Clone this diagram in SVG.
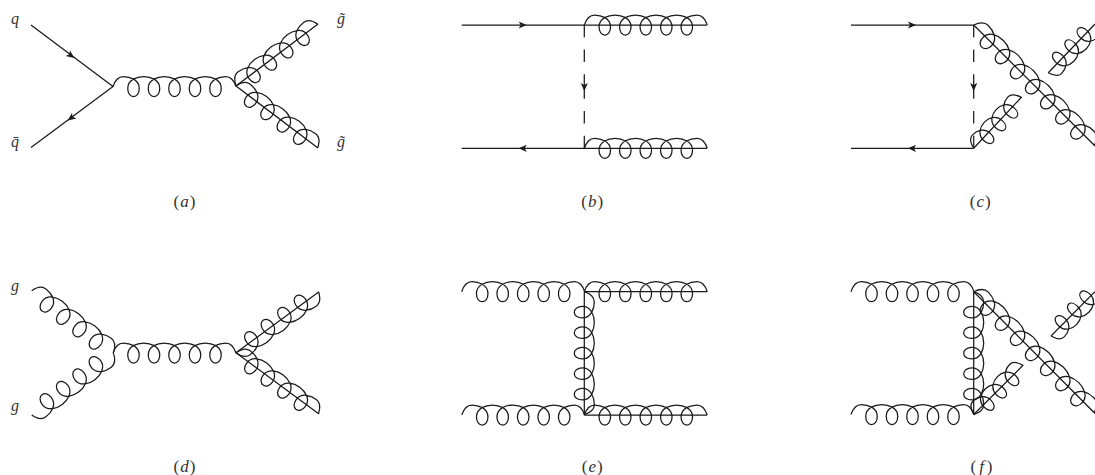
<svg xmlns="http://www.w3.org/2000/svg" width="1095" height="475" viewBox="0 0 1095 475">
<style>
.l{fill:none;stroke:#1a1a1a;stroke-width:1.25;stroke-linecap:butt;vector-effect:non-scaling-stroke}
.d{stroke-dasharray:12.3 12.3 12.3 12.3 24.6 12.3 12.3 12.3 12.3}
.a{fill:#1a1a1a;stroke:none}
text{font-family:"Liberation Serif","DejaVu Serif",serif;font-size:16px;fill:#333;text-anchor:middle}
.c{font-size:17px;letter-spacing:1px}
.i{font-style:italic}
</style>
<defs>
<path id="g3" class="l" d="M0,0C2,-6 5,-10 10.25,-10c6.5,0 16,3 16,12c0,5 -2.6,8 -5.75,8c-3.15,0 -5.75,-3 -5.75,-8c0,-9 9.5,-12 16,-12c6.5,0 16,3 16,12c0,5 -2.6,8 -5.75,8c-3.15,0 -5.75,-3 -5.75,-8c0,-9 9.5,-12 16,-12c6.5,0 16,3 16,12c0,5 -2.6,8 -5.75,8c-3.15,0 -5.75,-3 -5.75,-8c0,-9 9.5,-12 16,-12c5.25,0 8.25,4 10.25,10"/>
<path id="g4" class="l" d="M0,0C2,-6 5,-10 10.25,-10c6.5,0 16,3 16,12c0,5 -2.6,8 -5.75,8c-3.15,0 -5.75,-3 -5.75,-8c0,-9 9.5,-12 16,-12c6.5,0 16,3 16,12c0,5 -2.6,8 -5.75,8c-3.15,0 -5.75,-3 -5.75,-8c0,-9 9.5,-12 16,-12c6.5,0 16,3 16,12c0,5 -2.6,8 -5.75,8c-3.15,0 -5.75,-3 -5.75,-8c0,-9 9.5,-12 16,-12c6.5,0 16,3 16,12c0,5 -2.6,8 -5.75,8c-3.15,0 -5.75,-3 -5.75,-8c0,-9 9.5,-12 16,-12c5.25,0 8.25,4 10.25,10"/>
<path id="g5" class="l" d="M0,0C2,-6 5,-10 10.25,-10c6.5,0 16,3 16,12c0,5 -2.6,8 -5.75,8c-3.15,0 -5.75,-3 -5.75,-8c0,-9 9.5,-12 16,-12c6.5,0 16,3 16,12c0,5 -2.6,8 -5.75,8c-3.15,0 -5.75,-3 -5.75,-8c0,-9 9.5,-12 16,-12c6.5,0 16,3 16,12c0,5 -2.6,8 -5.75,8c-3.15,0 -5.75,-3 -5.75,-8c0,-9 9.5,-12 16,-12c6.5,0 16,3 16,12c0,5 -2.6,8 -5.75,8c-3.15,0 -5.75,-3 -5.75,-8c0,-9 9.5,-12 16,-12c6.5,0 16,3 16,12c0,5 -2.6,8 -5.75,8c-3.15,0 -5.75,-3 -5.75,-8c0,-9 9.5,-12 16,-12c5.25,0 8.25,4 10.25,10"/>
<path id="g7" class="l" d="M0,0C2,-6 5,-10 10.25,-10c6.5,0 16,3 16,12c0,5 -2.6,8 -5.75,8c-3.15,0 -5.75,-3 -5.75,-8c0,-9 9.5,-12 16,-12c6.5,0 16,3 16,12c0,5 -2.6,8 -5.75,8c-3.15,0 -5.75,-3 -5.75,-8c0,-9 9.5,-12 16,-12c6.5,0 16,3 16,12c0,5 -2.6,8 -5.75,8c-3.15,0 -5.75,-3 -5.75,-8c0,-9 9.5,-12 16,-12c6.5,0 16,3 16,12c0,5 -2.6,8 -5.75,8c-3.15,0 -5.75,-3 -5.75,-8c0,-9 9.5,-12 16,-12c6.5,0 16,3 16,12c0,5 -2.6,8 -5.75,8c-3.15,0 -5.75,-3 -5.75,-8c0,-9 9.5,-12 16,-12c6.5,0 16,3 16,12c0,5 -2.6,8 -5.75,8c-3.15,0 -5.75,-3 -5.75,-8c0,-9 9.5,-12 16,-12c6.5,0 16,3 16,12c0,5 -2.6,8 -5.75,8c-3.15,0 -5.75,-3 -5.75,-8c0,-9 9.5,-12 16,-12c5.25,0 8.25,4 10.25,10"/>
<path id="arr" class="a" d="M4,0L-4,-3.6L-2,0L-4,3.6Z"/>
</defs>
<g id="connectors">
<g id="panel-a">
<path class="l" d="M31,25L113,86.5L31,147.5"/>
<use href="#arr" transform="translate(71,55.5) rotate(37)"/>
<use href="#arr" transform="translate(71,118) rotate(143)"/>
<use href="#g5" transform="translate(113,86.5)"/>
<path class="l" d="M236,86L318,24M236,86L318,148"/>
<use href="#g4" transform="translate(236,86) rotate(-37.1)"/>
<use href="#g4" transform="translate(236,86) rotate(37.1)"/>
</g>
<g id="panel-b">
<path class="l" d="M461.7,25H707M461.7,148.3H707"/>
<use href="#arr" transform="translate(522.7,25)"/>
<use href="#arr" transform="translate(522.7,148.3) rotate(180)"/>
<path class="l d" d="M584.3,25V148.3"/>
<use href="#arr" transform="translate(584.3,87) rotate(90)"/>
<use href="#g5" transform="translate(584.3,25)"/>
<use href="#g5" transform="translate(584.3,148.3)"/>
</g>
<g id="panel-c">
<path class="l" d="M851,25H973.7M851,148.3H973.7"/>
<use href="#arr" transform="translate(912,25)"/>
<use href="#arr" transform="translate(912,148.3) rotate(180)"/>
<path class="l d" d="M973.7,25V148.3"/>
<use href="#arr" transform="translate(973.7,87) rotate(90)"/>
<path class="l" d="M973.7,25L1095,146M1048.3,72.7L1095,24M973.7,148.3L1021.7,97"/>
<use href="#g7" transform="translate(973.7,25) rotate(45) scale(1.04,1)"/>
<use href="#g3" transform="translate(1048.3,72.7) rotate(-45) scale(.85,-1)"/>
<use href="#g3" transform="translate(973.7,148.3) rotate(-47) scale(.85,1)"/>
</g>
<g id="panel-d">
<use href="#g4" transform="translate(31.7,290.7) rotate(37.1)"/>
<use href="#g4" transform="translate(31.7,415) rotate(-37.1) scale(1,-1)"/>
<use href="#g5" transform="translate(113,353)"/>
<path class="l" d="M236,352.7L319,291.7M236,352.7L319,414"/>
<use href="#g4" transform="translate(236,352.7) rotate(-36.3) scale(1,-1)"/>
<use href="#g4" transform="translate(236,352.7) rotate(36.4)"/>
</g>
<g id="panel-e">
<use href="#g5" transform="translate(461.7,291.7)"/>
<use href="#g5" transform="translate(461.7,415)"/>
<path class="l" d="M584.3,291.7H707M584.3,415H707M584.3,291.7V415"/>
<use href="#g5" transform="translate(584.3,291.7)"/>
<use href="#g5" transform="translate(584.3,415)"/>
<use href="#g5" transform="translate(584.3,291.7) rotate(90)"/>
</g>
<g id="panel-f">
<use href="#g5" transform="translate(851,291.7)"/>
<use href="#g5" transform="translate(851,414.5)"/>
<path class="l" d="M973.7,291.7V414.5M973.7,291.7L1095,413.5M1051,336L1095,291.7M973.7,414.5L1023.3,365"/>
<use href="#g5" transform="translate(973.7,291.7) rotate(90)"/>
<use href="#g7" transform="translate(973.7,291.7) rotate(45) scale(1.04,1)"/>
<use href="#g3" transform="translate(1051,336) rotate(-45) scale(.85,-1)"/>
<use href="#g3" transform="translate(973.7,414.5) rotate(-45) scale(.85,1)"/>
</g>
</g>
<g id="label-q"><text class="i" x="15" y="24">q</text></g>
<g id="label-qbar"><text class="i" x="15" y="147">q̄</text></g>
<g id="label-gluino-1"><text class="i" x="341" y="24">g̃</text></g>
<g id="label-gluino-2"><text class="i" x="341" y="147">g̃</text></g>
<g id="label-g-1"><text class="i" x="15" y="291">g</text></g>
<g id="label-g-2"><text class="i" x="15" y="411">g</text></g>
<g id="caption-a"><text class="c" x="185" y="207">(<tspan class="i">a</tspan>)</text></g>
<g id="caption-b"><text class="c" x="592.7" y="207">(<tspan class="i">b</tspan>)</text></g>
<g id="caption-c"><text class="c" x="980.7" y="207">(<tspan class="i">c</tspan>)</text></g>
<g id="caption-d"><text class="c" x="185" y="472">(<tspan class="i">d</tspan>)</text></g>
<g id="caption-e"><text class="c" x="592.7" y="472">(<tspan class="i">e</tspan>)</text></g>
<g id="caption-f"><text class="c" x="982" y="472">(<tspan class="i" dx="2">f</tspan><tspan dx="2">)</tspan></text></g>
</svg>
